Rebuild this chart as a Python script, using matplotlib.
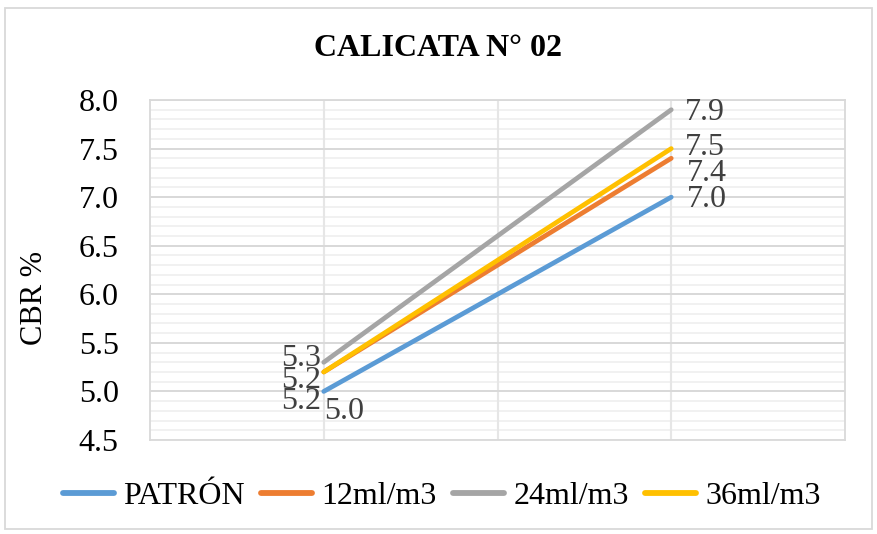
import matplotlib
matplotlib.use("Agg")
import matplotlib.pyplot as plt
from matplotlib.patches import Rectangle

series = ["PATRÓN", "12ml/m3", "24ml/m3", "36ml/m3"]
x_vals = [1, 3]
values = {
    "PATRÓN": [5.0, 7.0],
    "12ml/m3": [5.2, 7.4],
    "24ml/m3": [5.3, 7.9],
    "36ml/m3": [5.2, 7.5],
}
colors = {
    "PATRÓN": "#5b9bd5",
    "12ml/m3": "#ed7d31",
    "24ml/m3": "#a5a5a5",
    "36ml/m3": "#ffc000",
}
yticks = [4.5, 5.0, 5.5, 6.0, 6.5, 7.0, 7.5, 8.0]

plt.rcParams['font.family'] = ['Liberation Serif', 'DejaVu Serif']

fig = plt.figure(figsize=(8.77, 5.34), dpi=100)
fig.patches.append(Rectangle((5/877, 5/534), 867/877, 521/534, transform=fig.transFigure,
                             fill=False, edgecolor="#d9d9d9", linewidth=1.3))
ax = fig.add_axes([150/877, 1-440/534, 695/877, 340/534])

# label offsets (points) to mimic Excel placement
start_off = {
    "PATRÓN": (0, -14.5, "left"),
    "12ml/m3": (-2, -21, "right"),
    "24ml/m3": (-2, 3, "right"),
    "36ml/m3": (-2, -6, "right"),
}
end_off = {
    "PATRÓN": (11, -1.5),
    "12ml/m3": (11, -11),
    "24ml/m3": (10, -2),
    "36ml/m3": (10, 1),
}

for s in series:
    ax.plot(x_vals, values[s], color=colors[s], lw=3.4, solid_capstyle="round", label=s, zorder=3)
    dx, dy, ha = start_off[s]
    ax.annotate(f"{values[s][0]:.1f}", (x_vals[0], values[s][0]), xytext=(dx, dy),
                textcoords="offset points", ha=ha, va="center", fontsize=23, color="#404040")
    dx, dy = end_off[s]
    ax.annotate(f"{values[s][1]:.1f}", (x_vals[1], values[s][1]), xytext=(dx, dy),
                textcoords="offset points", ha="left", va="center", fontsize=23, color="#404040")

ax.set_xlim(0, 4)
ax.set_ylim(4.5, 8.0)
ax.set_yticks(yticks)
ax.set_yticklabels([f"{v:.1f}" for v in yticks])
ax.set_xticks([])

# gridlines: minor horizontal, vertical, then major horizontal
minor = [4.5 + 0.1 * i for i in range(36)]
for y in minor:
    ax.axhline(y, color="#f0f0f0", lw=1.3, zorder=0.5)
for x in [1, 2, 3]:
    ax.axvline(x, color="#e6e6e6", lw=1.5, zorder=0.6)
for y in yticks[1:]:
    ax.axhline(y, color="#d9d9d9", lw=1.4, zorder=0.7)

ax.tick_params(axis="y", which="both", left=False, labelsize=23, labelcolor="black", pad=19)
for side in ["top", "right", "bottom", "left"]:
    ax.spines[side].set_color("#d9d9d9")
    ax.spines[side].set_linewidth(1.3)

fig.text(35/877, 1-298/534, "CBR %", rotation=90, ha="center", va="center", fontsize=22, color="black")
fig.text(0.5, 1-48/534, "CALICATA N° 02", ha="center", va="center", fontsize=23, fontweight="bold")

fig.legend(loc="center", bbox_to_anchor=(442/877, 1-496/534), ncol=4, frameon=False, fontsize=23,
           handlelength=1.6, handletextpad=0.3, columnspacing=0.5)
for line in fig.legends[0].get_lines():
    line.set_linewidth(4.2)
    line.set_solid_capstyle("round")

fig.savefig("out.png", dpi=100)
